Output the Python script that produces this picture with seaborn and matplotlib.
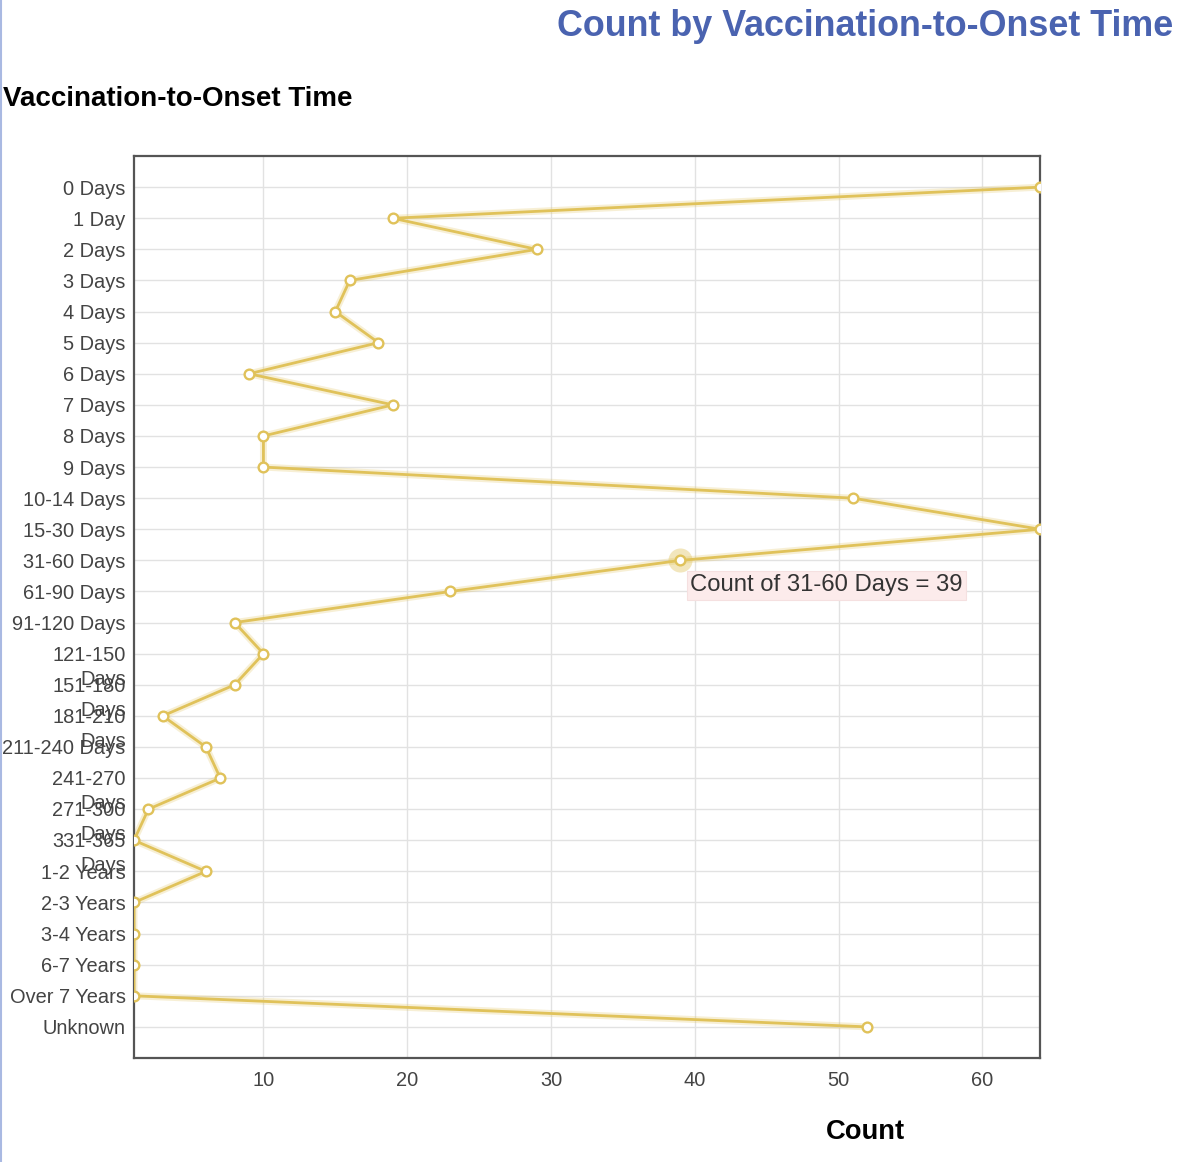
import matplotlib
matplotlib.use("Agg")
import matplotlib.pyplot as plt
import matplotlib.transforms as mtransforms
from matplotlib.lines import Line2D
import seaborn as sns
import pandas as pd

categories = ["0 Days", "1 Day", "2 Days", "3 Days", "4 Days", "5 Days", "6 Days",
              "7 Days", "8 Days", "9 Days", "10-14 Days", "15-30 Days", "31-60 Days",
              "61-90 Days", "91-120 Days", "121-150 Days", "151-180 Days",
              "181-210 Days", "211-240 Days", "241-270 Days", "271-300 Days",
              "331-365 Days", "1-2 Years", "2-3 Years", "3-4 Years", "6-7 Years",
              "Over 7 Years", "Unknown"]
counts = [64, 19, 29, 16, 15, 18, 9, 19, 10, 10, 51, 64, 39, 23, 8, 10, 8, 3, 6, 7,
          2, 1, 6, 1, 1, 1, 1, 52]
wrapped = ["121-150 Days", "151-180 Days", "181-210 Days", "241-270 Days",
           "271-300 Days", "331-365 Days"]
x_ticks = [10, 20, 30, 40, 50, 60]
highlight = "31-60 Days"

sns.set_theme(style="white")
plt.rcParams['font.family'] = ['Liberation Sans', 'DejaVu Sans']

df = pd.DataFrame({"time": categories, "count": counts,
                   "pos": list(range(len(categories)))})

fig = plt.figure(figsize=(11.89, 11.62), dpi=100)
ax = fig.add_axes([0.1127, 0.0895, 0.762, 0.7762])

gold = "#e0c25a"
# soft glow under the line
sns.lineplot(data=df, x="count", y="pos", orient="y", sort=False, estimator=None,
             color=gold, linewidth=5, alpha=0.25, ax=ax, zorder=2)
sns.lineplot(data=df, x="count", y="pos", orient="y", sort=False, estimator=None,
             color=gold, linewidth=2.0, marker="o", markersize=7,
             markerfacecolor="white", markeredgecolor=gold, markeredgewidth=1.7,
             ax=ax, zorder=3)

hi = df[df["time"] == highlight].iloc[0]
ax.scatter([hi["count"]], [hi["pos"]], s=300, color=gold, alpha=0.4,
           linewidths=0, zorder=2.5)
ax.annotate(f"Count of {highlight} = {hi['count']}", xy=(hi["count"], hi["pos"]),
            xytext=(7, -18), textcoords="offset points", ha="left", va="center",
            fontsize=17.2, color="#333333", zorder=5,
            bbox=dict(boxstyle="square,pad=0.15", facecolor="#fcebeb",
                      edgecolor="#f5e0e0", linewidth=0.8))

ax.set_xlim(1, 64)
ax.set_ylim(len(categories), -1)
ax.set_xticks(x_ticks)
ax.set_xticklabels([str(t) for t in x_ticks])
labels = [c.replace(" Days", "\nDays") if c in wrapped else c for c in categories]
ax.set_yticks(df["pos"].tolist())
ax.set_yticklabels(labels)

ax.grid(True, color="#e2e2e2", linewidth=1.0)
ax.set_axisbelow(True)
for sp in ax.spines.values():
    sp.set_color("#555555")
    sp.set_linewidth(1.6)
ax.tick_params(axis="both", length=0, labelsize=14.4, labelcolor="#444444")
ax.tick_params(axis="y", pad=6)
ax.tick_params(axis="x", pad=9)
ax.set_xlabel("")
ax.set_ylabel("")

offset = mtransforms.ScaledTranslation(0, 0.078, fig.dpi_scale_trans)
for lab in ax.get_yticklabels():
    if "\n" in lab.get_text():
        lab.set_va("top")
        lab.set_multialignment("right")
        lab.set_linespacing(1.33)
        lab.set_transform(lab.get_transform() + offset)

fig.text(0.9865, 0.977, "Count by Vaccination-to-Onset Time", ha="right", va="center",
         fontsize=25.8, fontweight="bold", color="#4a63b0")
fig.text(0.0025, 0.915, "Vaccination-to-Onset Time", ha="left", va="center",
         fontsize=20, fontweight="bold", color="#000000")
fig.text(0.7275, 0.0258, "Count", ha="center", va="center",
         fontsize=19.7, fontweight="bold", color="#000000")
fig.add_artist(Line2D([0.001, 0.001], [0, 1], transform=fig.transFigure,
                      color="#a9b9e2", linewidth=1.5))

fig.savefig("out.png", dpi=100)
